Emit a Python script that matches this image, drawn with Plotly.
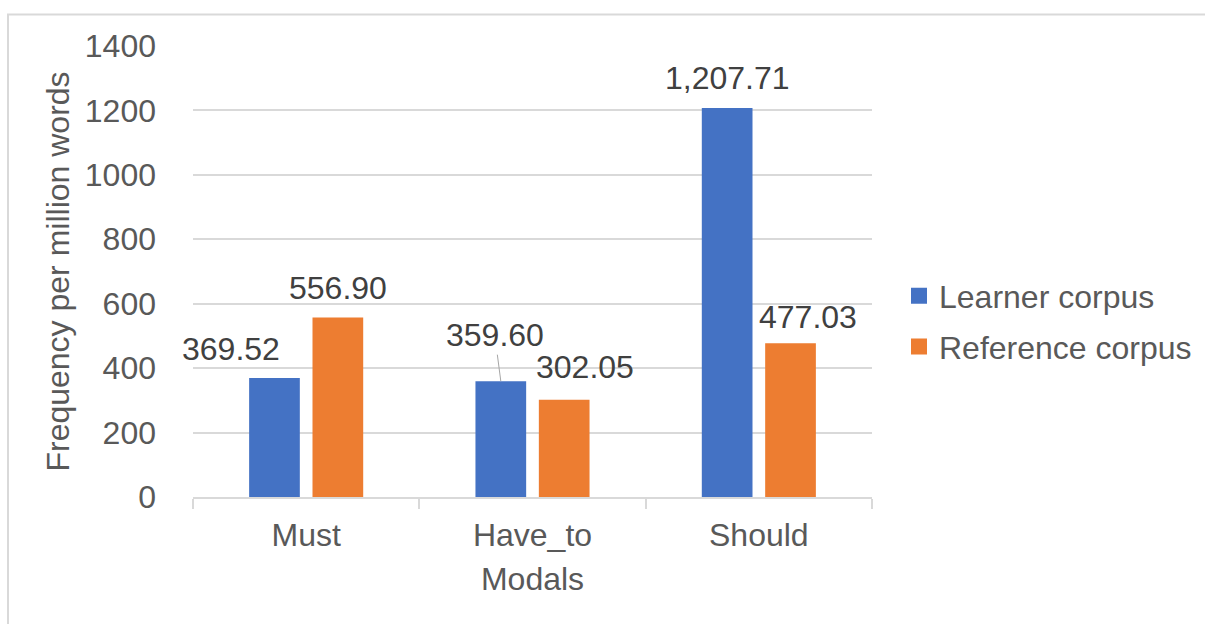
import plotly.graph_objects as go

categories = ["Must", "Have_to", "Should"]
learner = [369.52, 359.60, 1207.71]
reference = [556.90, 302.05, 477.03]
series_names = ["Learner corpus", "Reference corpus"]
colors = ["#4472C4", "#ED7D31"]
y_ticks = [0, 200, 400, 600, 800, 1000, 1200, 1400]

FONT = "Liberation Sans, Arial, sans-serif"
GREY = "#595959"
W, H = 1205, 624
ML, MR, MT, MB = 193, 333, 46, 127
PW = W - ML - MR
PH = H - MT - MB

fig = go.Figure()
for name, vals, col in zip(series_names, [learner, reference], colors):
    fig.add_trace(go.Bar(x=categories, y=vals, name=name, marker_color=col,
                         marker_line_width=0, showlegend=False))
# legend entries
for i, (name, col) in enumerate(zip(series_names, colors)):
    fig.add_trace(go.Scatter(x=[None], y=[None], mode="markers", name=name,
                             marker=dict(symbol="square", size=16, color=col),
                             legendgroup=f"g{i}", showlegend=True))

bar_off = 31.7
# label offsets relative to the bar top center (dx, dy up)
label_offsets = {
    (0, 0): (-43, 29), (1, 0): (0, 29.5),
    (1, 1): (20.5, 33),
    (0, 2): (0, 29.5), (1, 2): (17.5, 26),
}
LBL = 32
annotations = []
for s, vals in enumerate([learner, reference]):
    base = -bar_off if s == 0 else bar_off
    for c, (cat, v) in enumerate(zip(categories, vals)):
        txt = f"{v:,.2f}"
        if (s, c) == (0, 1):
            annotations.append(dict(x=cat, y=v, xref="x", yref="y", text=txt,
                                    showarrow=True, arrowhead=0, arrowwidth=1,
                                    arrowcolor="#A6A6A6", standoff=0,
                                    ax=-6, ay=-46, xshift=base,
                                    font=dict(size=LBL, color="#404040", family=FONT)))
        else:
            dx, dy = label_offsets[(s, c)]
            annotations.append(dict(x=cat, y=v, xref="x", yref="y", text=txt,
                                    showarrow=False, xanchor="center", yanchor="middle",
                                    xshift=base + dx, yshift=dy,
                                    font=dict(size=LBL, color="#404040", family=FONT)))

def px_to_paper_x(px):
    return (px - ML) / PW

def px_to_paper_y(py):
    return (H - MB - py) / PH

fig.update_layout(
    width=W, height=H,
    margin=dict(l=ML, r=MR, t=MT, b=MB, autoexpand=False),
    paper_bgcolor="white", plot_bgcolor="white",
    font=dict(family=FONT, color=GREY, size=32),
    barmode="group", bargap=0.44, bargroupgap=0.2,
    annotations=annotations,
    showlegend=True,
    legend=dict(x=px_to_paper_x(899), y=px_to_paper_y(321.5), xanchor="left", yanchor="middle",
                font=dict(size=32, color=GREY, family=FONT), tracegroupgap=6,
                bgcolor="rgba(0,0,0,0)", itemclick=False),
    shapes=[dict(type="rect", xref="paper", yref="paper",
                 x0=px_to_paper_x(8), x1=px_to_paper_x(1230),
                 y0=px_to_paper_y(650), y1=px_to_paper_y(14.5),
                 line=dict(color="#D9D9D9", width=2), layer="below")],
)
fig.update_xaxes(
    type="category", range=[-0.5, 2.5], showgrid=False, showline=True,
    linecolor="#D9D9D9", linewidth=1.5,
    ticks="outside", tickson="boundaries", ticklen=10, tickcolor="#D9D9D9", tickwidth=1.5,
    tickfont=dict(size=32, color=GREY), ticklabelstandoff=9,
    title=dict(text="Modals", font=dict(size=32, color=GREY), standoff=15),
)
fig.update_yaxes(
    range=[0, 1400], tickvals=y_ticks, showgrid=True, gridcolor="#D9D9D9", gridwidth=1.5,
    zeroline=False, showline=False, ticks="", tickfont=dict(size=32, color=GREY),
    ticklabelstandoff=36,
    title=dict(text="Frequency per million words", font=dict(size=32, color=GREY), standoff=5),
)

fig.write_html("out.html")
